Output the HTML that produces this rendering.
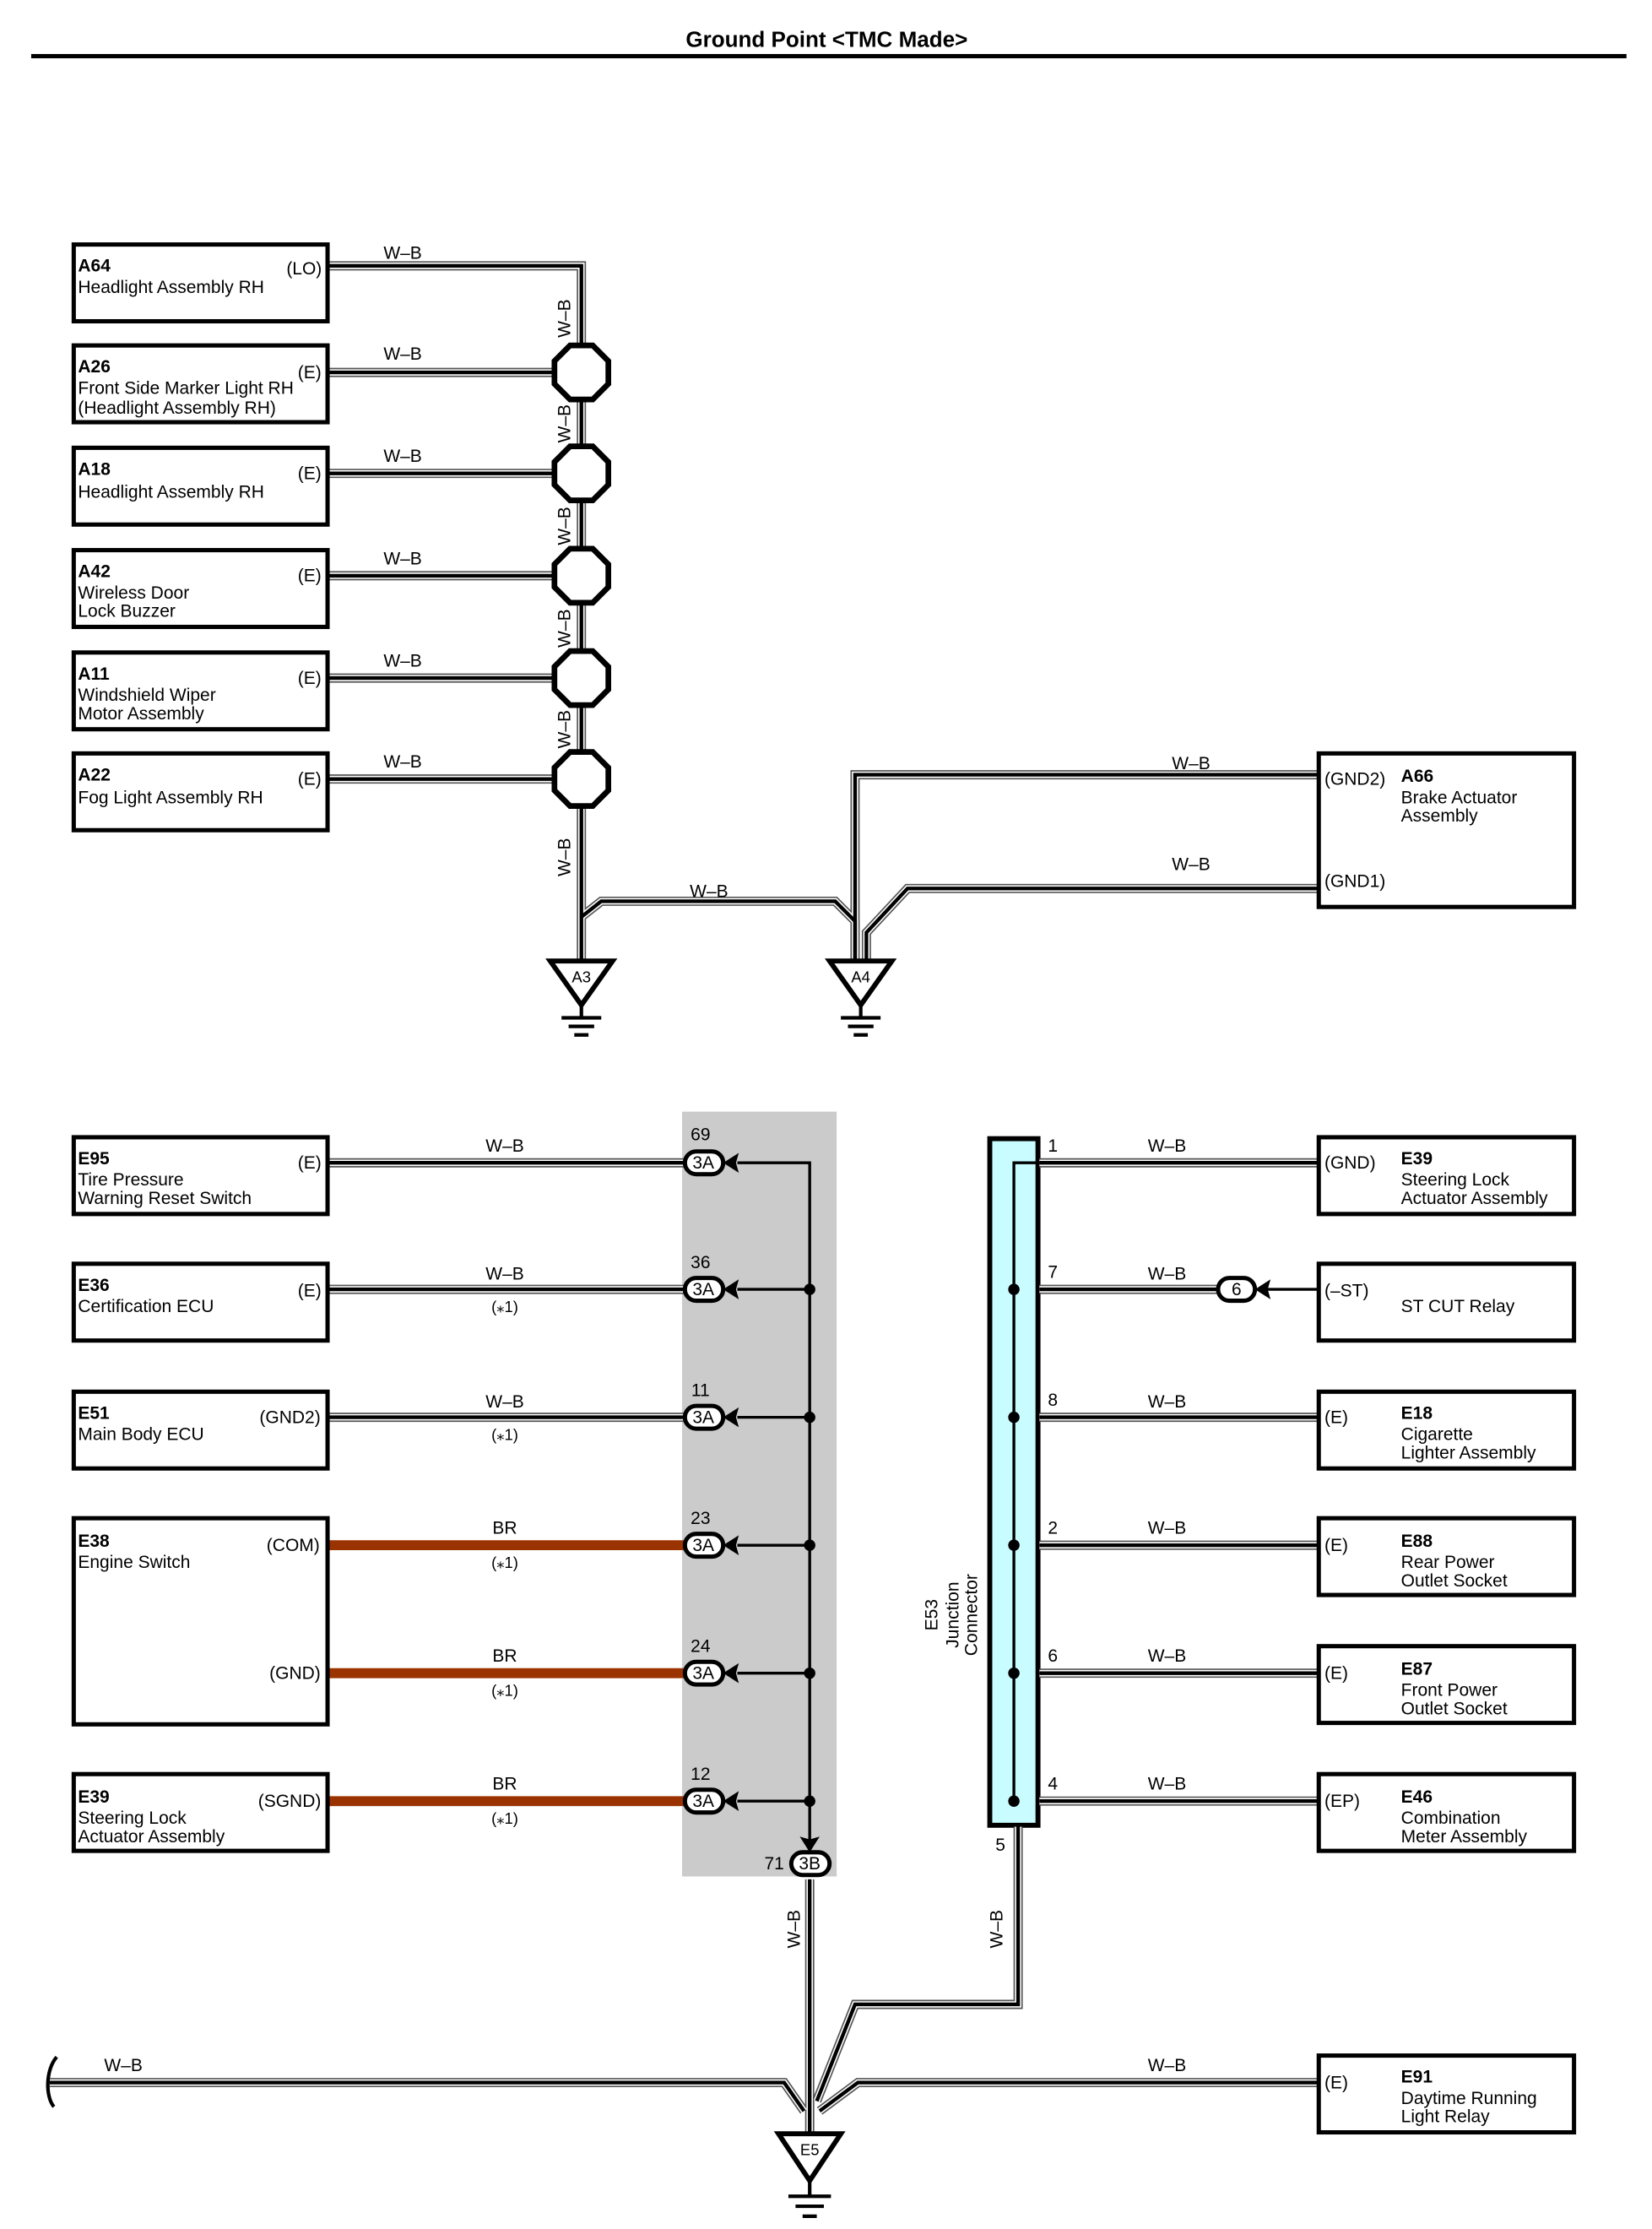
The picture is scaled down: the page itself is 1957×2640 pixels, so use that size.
<!DOCTYPE html>
<html><head><meta charset="utf-8"><style>
html,body{margin:0;padding:0;background:#fff}
svg{display:block}
text{font-family:"Liberation Sans",Arial,sans-serif;font-size:12.5px;fill:#000}
.b{font-weight:bold}
</style></head><body>
<svg width="1957" height="2640" viewBox="0 0 1165 1568" preserveAspectRatio="none" xmlns="http://www.w3.org/2000/svg">
<defs>
<g id="W" fill="none">
 <!-- top section -->
 <path d="M231 187H410V675"/>
 <path d="M231 262H392"/><path d="M231 333H392"/><path d="M231 405H392"/><path d="M231 477H392"/><path d="M231 548H392"/>
 <path d="M410 645L424 634H589L603 648V675"/>
 <path d="M930 545H603V675"/>
 <path d="M930 625H640L611 656V675"/>
 <!-- bottom left -->
 <path d="M231 818H483"/><path d="M231 907H483"/><path d="M231 997H483"/>
 <path d="M571 1322V1500"/>
 <!-- junction -->
 <path d="M733 818H930"/><path d="M733 907H858"/><path d="M733 997H930"/><path d="M733 1087H930"/><path d="M733 1177H930"/><path d="M733 1267H930"/>
 <path d="M718 1285V1410H603L576 1478"/>
 <path d="M35 1465H553L567 1485"/>
 <path d="M930 1465H605L578 1485"/>
</g>
</defs>
<text x="583" y="33" text-anchor="middle" class="b" style="font-size:15.5px">Ground Point &lt;TMC Made&gt;</text>
<rect x="22" y="38" width="1125" height="3" fill="#000"/>

<rect x="481" y="782" width="109" height="538" fill="#cbcbcb"/>
<rect x="698" y="801" width="34" height="483" fill="#c8fcff" stroke="#000" stroke-width="3.5"/>

<use href="#W" stroke="#555" stroke-width="6.5"/>
<use href="#W" stroke="#fff" stroke-width="4.5"/>
<use href="#W" stroke="#000" stroke-width="2.6"/>

<!-- brown wires -->
<g stroke="#9a3300" stroke-width="7"><path d="M231 1087H483"/><path d="M231 1177H483"/><path d="M231 1267H483"/></g>

<!-- top boxes -->
<g fill="none" stroke="#000" stroke-width="3">
<rect x="52" y="172" width="179" height="54"/><rect x="52" y="243" width="179" height="54"/>
<rect x="52" y="315" width="179" height="54"/><rect x="52" y="387" width="179" height="54"/>
<rect x="52" y="459" width="179" height="54"/><rect x="52" y="530" width="179" height="54"/>
<rect x="930" y="530" width="180" height="108"/>
<rect x="52" y="800" width="179" height="54"/><rect x="52" y="889" width="179" height="54"/>
<rect x="52" y="979" width="179" height="54"/><rect x="52" y="1068" width="179" height="145"/>
<rect x="52" y="1248" width="179" height="54"/>
<rect x="930" y="800" width="180" height="54"/><rect x="930" y="889" width="180" height="54"/>
<rect x="930" y="979" width="180" height="54"/><rect x="930" y="1068" width="180" height="54"/>
<rect x="930" y="1158" width="180" height="54"/><rect x="930" y="1248" width="180" height="54"/>
<rect x="930" y="1446" width="180" height="54"/>
</g>
<!-- octagons -->
<g fill="#fff" stroke="#000" stroke-width="4">
<polygon points="402,243 418,243 429,254 429,270 418,281 402,281 391,270 391,254"/>
<polygon points="402,314 418,314 429,325 429,341 418,352 402,352 391,341 391,325"/>
<polygon points="402,386 418,386 429,397 429,413 418,424 402,424 391,413 391,397"/>
<polygon points="402,458 418,458 429,469 429,485 418,496 402,496 391,485 391,469"/>
<polygon points="402,529 418,529 429,540 429,556 418,567 402,567 391,556 391,540"/>
</g>
<!-- grounds -->
<g fill="#fff" stroke="#000" stroke-width="3.5">
<polygon points="388,676 432,676 410,707"/><polygon points="585,676 629,676 607,707"/><polygon points="549,1501 593,1501 571,1534"/>
</g>
<g stroke="#000" stroke-width="2.5">
<path d="M410 707V715M396 716H424M401 722H419M405 728H415"/>
<path d="M607 707V715M593 716H621M598 722H616M602 728H612"/>
<path d="M571 1534V1544M556 1545H586M561 1552H581M566 1559H576"/>
</g>
<text x="410" y="691" text-anchor="middle" style="font-size:11px">A3</text>
<text x="607" y="691" text-anchor="middle" style="font-size:11px">A4</text>
<text x="571" y="1516" text-anchor="middle" style="font-size:11px">E5</text>

<!-- connector lines -->
<g stroke="#000" stroke-width="2" fill="none"><path d="M520 818H571V1300"/><path d="M520 907H571M520 997H571M520 1087H571M520 1177H571M520 1267H571"/>
<path d="M733 818H715V1267"/><path d="M890 907H930"/></g>
<g fill="#000"><circle cx="571" cy="907" r="4"/><circle cx="571" cy="997" r="4"/><circle cx="571" cy="1087" r="4"/><circle cx="571" cy="1177" r="4"/><circle cx="571" cy="1267" r="4"/>
<circle cx="715" cy="907" r="4"/><circle cx="715" cy="997" r="4"/><circle cx="715" cy="1087" r="4"/><circle cx="715" cy="1177" r="4"/><circle cx="715" cy="1267" r="4"/>
<path d="M510 818L521 811L519 818L521 825Z"/><path d="M510 907L521 900L519 907L521 914Z"/><path d="M510 997L521 990L519 997L521 1004Z"/>
<path d="M510 1087L521 1080L519 1087L521 1094Z"/><path d="M510 1177L521 1170L519 1177L521 1184Z"/><path d="M510 1267L521 1260L519 1267L521 1274Z"/>
<path d="M885 907L896 900L894 907L896 914Z"/>
<path d="M571 1303L564 1292L571 1294L578 1292Z"/></g>
<!-- pills -->
<g fill="#fff" stroke="#000" stroke-width="3">
<rect x="483" y="810" width="27" height="16" rx="8"/><rect x="483" y="899" width="27" height="16" rx="8"/>
<rect x="483" y="989" width="27" height="16" rx="8"/><rect x="483" y="1079" width="27" height="16" rx="8"/>
<rect x="483" y="1169" width="27" height="16" rx="8"/><rect x="483" y="1259" width="27" height="16" rx="8"/>
<rect x="558" y="1303" width="27" height="16" rx="8"/><rect x="859" y="899" width="26" height="16" rx="8"/>
</g>
<g style="font-size:11.5px" text-anchor="middle">
<text x="496" y="822">3A</text><text x="496" y="911">3A</text><text x="496" y="1001">3A</text><text x="496" y="1091">3A</text><text x="496" y="1181">3A</text><text x="496" y="1271">3A</text>
<text x="571" y="1315">3B</text><text x="872" y="911">6</text>
<text x="494" y="802">69</text><text x="494" y="892">36</text><text x="494" y="982">11</text><text x="494" y="1072">23</text><text x="494" y="1162">24</text><text x="494" y="1252">12</text>
<text x="546" y="1315">71</text>
</g>
<g style="font-size:11.5px">
<text x="739" y="810">1</text><text x="739" y="899">7</text><text x="739" y="989">8</text><text x="739" y="1079">2</text><text x="739" y="1169">6</text><text x="739" y="1259">4</text><text x="702" y="1302">5</text>
</g>

<!-- wire labels -->
<g text-anchor="middle">
<text x="284" y="182">W–B</text><text x="284" y="253">W–B</text><text x="284" y="325">W–B</text><text x="284" y="397">W–B</text><text x="284" y="469">W–B</text><text x="284" y="540">W–B</text>
<text x="500" y="631">W–B</text><text x="840" y="541">W–B</text><text x="840" y="612">W–B</text>
<text x="356" y="810">W–B</text><text x="356" y="900">W–B</text><text x="356" y="990">W–B</text><text x="356" y="1079">BR</text><text x="356" y="1169">BR</text><text x="356" y="1259">BR</text>
<text x="356" y="923" style="font-size:11px">(⁎1)</text><text x="356" y="1013" style="font-size:11px">(⁎1)</text><text x="356" y="1103" style="font-size:11px">(⁎1)</text><text x="356" y="1193" style="font-size:11px">(⁎1)</text><text x="356" y="1283" style="font-size:11px">(⁎1)</text>
<text x="823" y="810">W–B</text><text x="823" y="900">W–B</text><text x="823" y="990">W–B</text><text x="823" y="1079">W–B</text><text x="823" y="1169">W–B</text><text x="823" y="1259">W–B</text>
<text x="87" y="1457">W–B</text><text x="823" y="1457">W–B</text>
</g>
<g text-anchor="middle">
<text transform="translate(402,224) rotate(-90)">W–B</text><text transform="translate(402,298) rotate(-90)">W–B</text>
<text transform="translate(402,370) rotate(-90)">W–B</text><text transform="translate(402,442) rotate(-90)">W–B</text>
<text transform="translate(402,513) rotate(-90)">W–B</text><text transform="translate(402,603) rotate(-90)">W–B</text>
<text transform="translate(564,1357) rotate(-90)">W–B</text><text transform="translate(707,1357) rotate(-90)">W–B</text>
<text transform="translate(661,1136) rotate(-90)">E53</text><text transform="translate(676,1136) rotate(-90)">Junction</text><text transform="translate(689,1136) rotate(-90)">Connector</text>
</g>
<path d="M40 1447C32 1456 32 1475 38 1482" stroke="#000" stroke-width="2.5" fill="none"/>

<!-- box texts -->
<g>
<text x="55" y="191" class="b">A64</text><text x="55" y="206">Headlight Assembly RH</text><text x="202" y="193">(LO)</text>
<text x="55" y="262" class="b">A26</text><text x="55" y="277">Front Side Marker Light RH</text><text x="55" y="291">(Headlight Assembly RH)</text><text x="210" y="266">(E)</text>
<text x="55" y="334" class="b">A18</text><text x="55" y="350">Headlight Assembly RH</text><text x="210" y="337">(E)</text>
<text x="55" y="406" class="b">A42</text><text x="55" y="421">Wireless Door</text><text x="55" y="434">Lock Buzzer</text><text x="210" y="409">(E)</text>
<text x="55" y="478" class="b">A11</text><text x="55" y="493">Windshield Wiper</text><text x="55" y="506">Motor Assembly</text><text x="210" y="481">(E)</text>
<text x="55" y="549" class="b">A22</text><text x="55" y="565">Fog Light Assembly RH</text><text x="210" y="552">(E)</text>
<text x="934" y="552">(GND2)</text><text x="988" y="550" class="b">A66</text><text x="988" y="565">Brake Actuator</text><text x="988" y="578">Assembly</text><text x="934" y="624">(GND1)</text>

<text x="55" y="819" class="b">E95</text><text x="55" y="834">Tire Pressure</text><text x="55" y="847">Warning Reset Switch</text><text x="210" y="822">(E)</text>
<text x="55" y="908" class="b">E36</text><text x="55" y="923">Certification ECU</text><text x="210" y="912">(E)</text>
<text x="55" y="998" class="b">E51</text><text x="55" y="1013">Main Body ECU</text><text x="183" y="1001">(GND2)</text>
<text x="55" y="1088" class="b">E38</text><text x="55" y="1103">Engine Switch</text><text x="188" y="1091">(COM)</text><text x="190" y="1181">(GND)</text>
<text x="55" y="1268" class="b">E39</text><text x="55" y="1283">Steering Lock</text><text x="55" y="1296">Actuator Assembly</text><text x="182" y="1271">(SGND)</text>

<text x="934" y="822">(GND)</text><text x="988" y="819" class="b">E39</text><text x="988" y="834">Steering Lock</text><text x="988" y="847">Actuator Assembly</text>
<text x="934" y="912">(–ST)</text><text x="988" y="923">ST CUT Relay</text>
<text x="934" y="1001">(E)</text><text x="988" y="998" class="b">E18</text><text x="988" y="1013">Cigarette</text><text x="988" y="1026">Lighter Assembly</text>
<text x="934" y="1091">(E)</text><text x="988" y="1088" class="b">E88</text><text x="988" y="1103">Rear Power</text><text x="988" y="1116">Outlet Socket</text>
<text x="934" y="1181">(E)</text><text x="988" y="1178" class="b">E87</text><text x="988" y="1193">Front Power</text><text x="988" y="1206">Outlet Socket</text>
<text x="934" y="1271">(EP)</text><text x="988" y="1268" class="b">E46</text><text x="988" y="1283">Combination</text><text x="988" y="1296">Meter Assembly</text>
<text x="934" y="1469">(E)</text><text x="988" y="1465" class="b">E91</text><text x="988" y="1480">Daytime Running</text><text x="988" y="1493">Light Relay</text>
</g>
</svg>
</body></html>
